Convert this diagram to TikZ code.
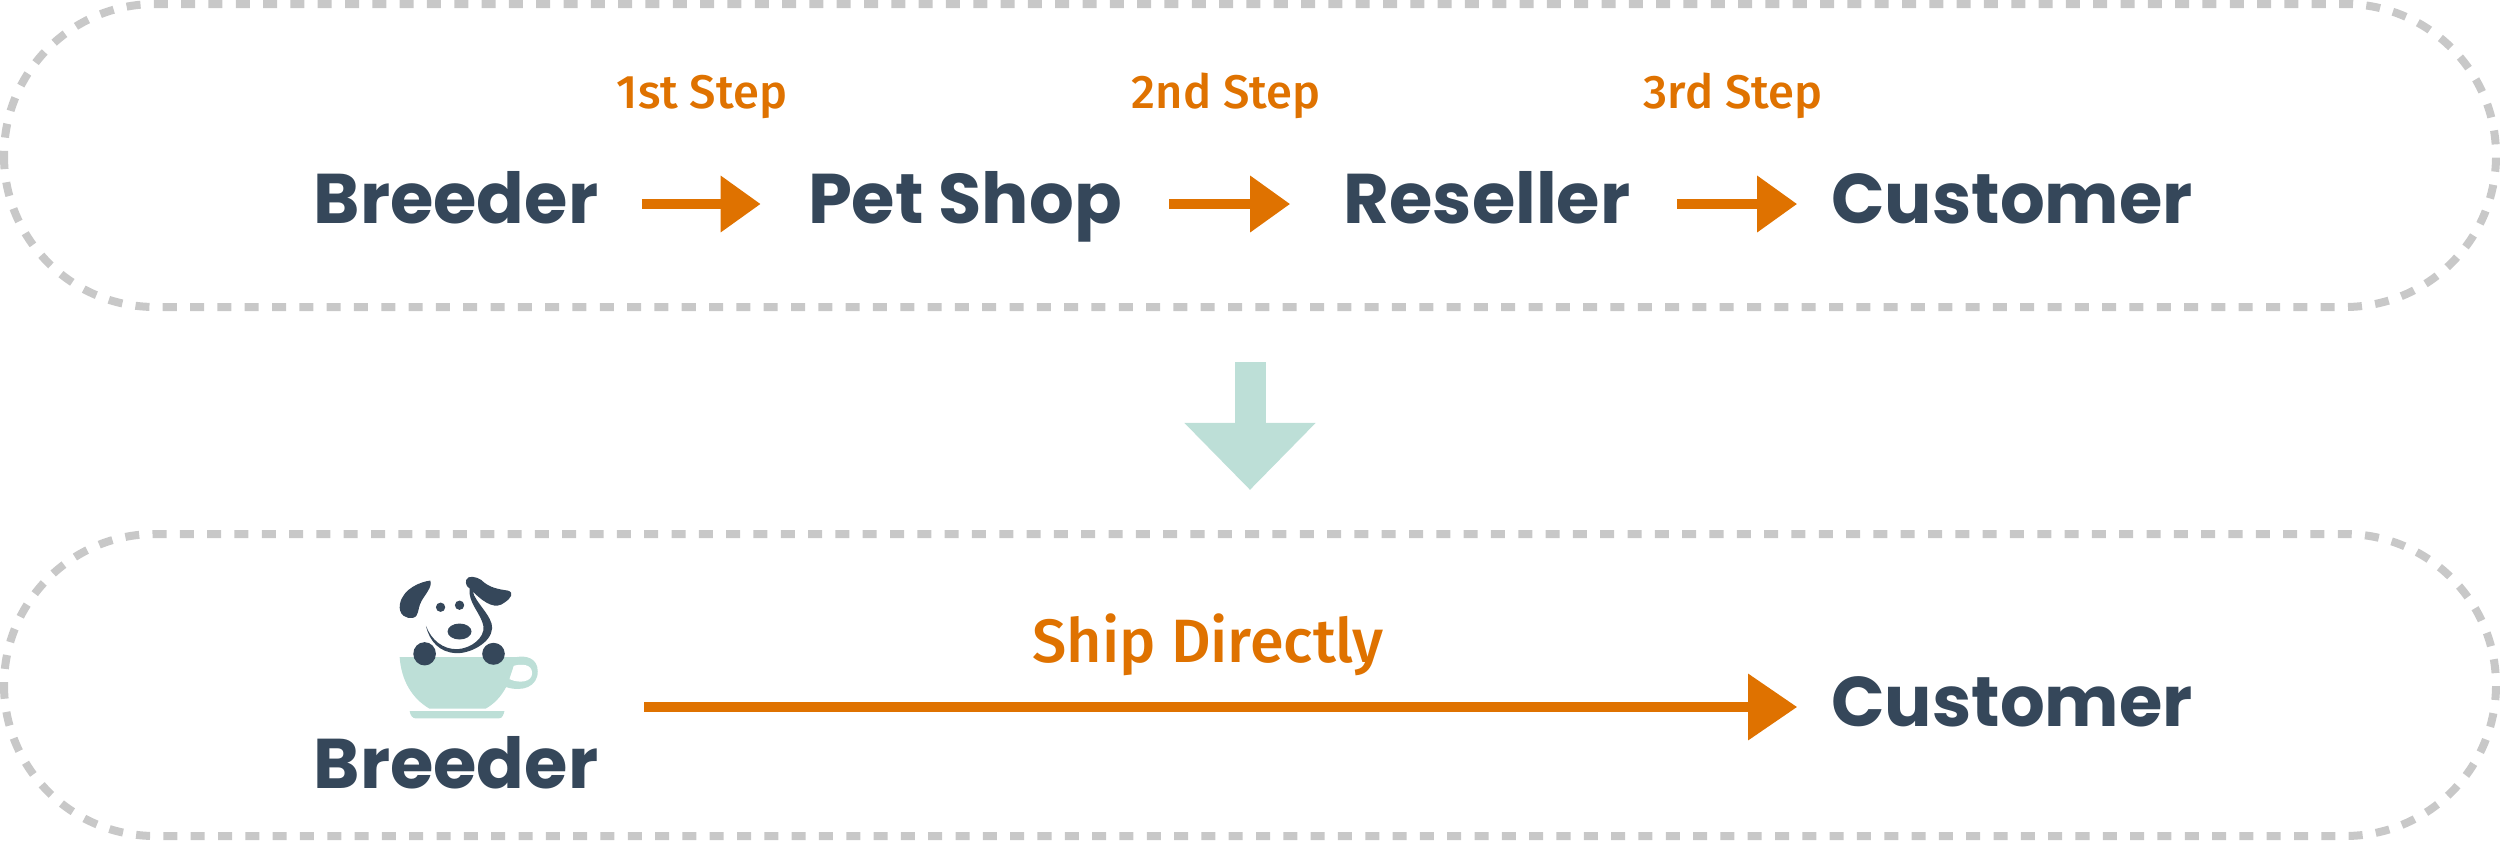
\documentclass[tikz,border=0pt]{standalone}
\usepackage{fontspec}
\usepackage{tikz}
\usetikzlibrary{arrows.meta}
\usetikzlibrary{positioning}
\newfontfamily\namefont{Poppins}
\newfontfamily\stepfont{Fira Sans Medium}
\definecolor{slatedark}{HTML}{35475A}
\definecolor{mintcup}{HTML}{BDDFD7}
\definecolor{steporange}{HTML}{DF7200}
\definecolor{pillgrey}{HTML}{C8C8C8}
\begin{document}
\begin{tikzpicture}[x=0.01cm,y=-0.01cm,
	pill/.style = {draw=pillgrey, line width=0.08cm, dash pattern=on 0.14cm off 0.133cm, rounded corners=1.51cm},
	party/.style = {anchor=base, inner xsep=0pt, inner ysep=0pt, text height=53*0.01cm, text depth=15*0.01cm, text=slatedark, font=\namefont\fontsize{20}{24}\selectfont\bfseries},
	steplabel/.style = {anchor=base, inner sep=0pt, text=steporange, font=\stepfont\fontsize{13.4}{16}\selectfont},
	steparrow/.style = {draw=steporange, line width=0.1cm, -{Triangle[length=0.4cm,width=0.54cm]}},
	shiparrow/.style = {draw=steporange, line width=0.1cm, -{Triangle[length=0.49cm,width=0.64cm]}},
	flowarrow/.style = {draw=mintcup, line width=0.31cm, -{Triangle[length=0.67cm,width=1.27cm]}}]
	\useasboundingbox (0,0) rectangle (2500,842);

	\draw[pill] (4,4) rectangle (2496,307);
	\draw[pill] (4,534) rectangle (2496,836);

	\node[party, minimum width=3.7cm] (breederA) at (456,223) {Breeder};
	\node[party, minimum width=4.07cm] (petshop) at (965,223) {Pet Shop};
	\node[party, minimum width=3.92cm] (reseller) at (1487,223) {Reseller};
	\node[party, minimum width=4.28cm] (customerA) at (2012,223) {Customer};
	\node[party, minimum width=3.7cm] (breederB) at (456,788) {Breeder};
	\node[party, minimum width=4.28cm] (customerB) at (2012,726) {Customer};

	\node[steplabel] (stepA) at (702,108) {1st Step};
	\node[steplabel] (stepB) at (1226,108) {2nd Step};
	\node[steplabel] (stepC) at (1733,108) {3rd Step};
	\node[steplabel, font=\stepfont\fontsize{17.4}{22}\selectfont] (shipdirect) at (1208,662) {Ship Directly};

	\draw[steparrow] (breederA) -- (petshop);
	\draw[steparrow] (petshop) -- (reseller);
	\draw[steparrow, shorten <=-0.07cm] (reseller) -- (customerA);

	\coordinate (flowtop) at (1250,362);
	\coordinate (flowtip) at (1250,490);
	\draw[flowarrow] (flowtop) -- (flowtip);

	\coordinate (shipstart) at (644,707);
	\draw[shiparrow] (shipstart) -- (customerB);

	\begin{scope}[shift={(180,530)},x=0.003333cm,y=-0.003333cm]
		\fill[mintcup] (660,382) -- (1010,382) .. controls (1040,376) and (1075,385) .. (1075,425)
			.. controls (1075,470) and (1030,488) .. (980,472)
			.. controls (965,500) and (945,522) .. (918,537) -- (750,537)
			.. controls (695,505) and (665,450) .. (660,382) -- cycle;
		\fill[white] (1003,408) .. controls (1025,402) and (1058,402) .. (1058,430)
			.. controls (1058,457) and (1020,462) .. (990,448) -- cycle;
		\fill[mintcup] (690,544) -- (975,544) .. controls (972,556) and (968,566) .. (958,566)
			-- (708,566) .. controls (698,566) and (692,556) .. (690,544) -- cycle;
		\fill[slatedark] (752,152) .. controls (725,155) and (670,175) .. (661,222)
			.. controls (655,255) and (680,268) .. (700,264)
			.. controls (720,258) and (712,240) .. (725,215)
			.. controls (735,195) and (760,170) .. (752,152) -- cycle;
		\fill[slatedark] (860,150) .. controls (865,135) and (890,140) .. (905,150)
			.. controls (930,175) and (960,178) .. (985,182)
			.. controls (1005,188) and (995,205) .. (975,218)
			.. controls (950,238) and (920,225) .. (880,185)
			.. controls (885,215) and (940,260) .. (938,295)
			.. controls (935,340) and (870,372) .. (830,370)
			.. controls (780,368) and (750,335) .. (739,288)
			.. controls (755,330) and (790,360) .. (835,358)
			.. controls (875,355) and (915,325) .. (912,290)
			.. controls (905,250) and (865,220) .. (870,175)
			.. controls (860,170) and (858,160) .. (860,150) -- cycle;
		\fill[slatedark] (783,232) circle[radius=14];
		\fill[slatedark] (840,226) circle[radius=14];
		\fill[slatedark] (840,305) ellipse[x radius=36, y radius=24];
		\fill[slatedark] (735,372) ellipse[x radius=34, y radius=35];
		\fill[slatedark] (942,372) ellipse[x radius=34, y radius=33];
	\end{scope}
\end{tikzpicture}
\end{document}
